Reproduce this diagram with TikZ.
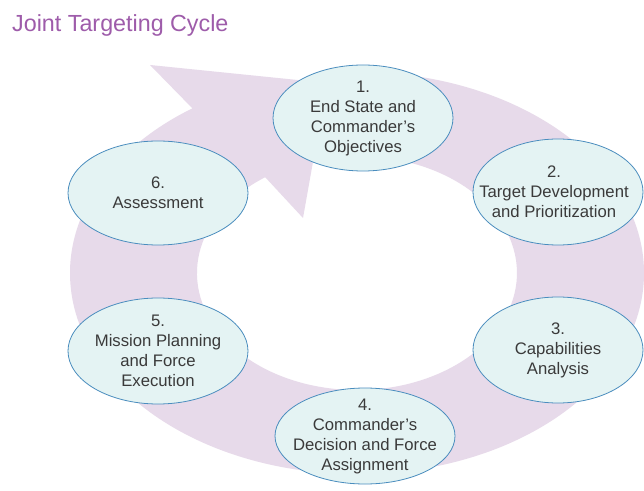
\documentclass[tikz,border=0pt]{standalone}
\usepackage{fontspec}
\setmainfont{Liberation Sans}
\usetikzlibrary{shapes.geometric}
\definecolor{ringcol}{RGB}{231,218,234}
\definecolor{bubfill}{RGB}{228,243,243}
\definecolor{bubdraw}{RGB}{74,141,190}
\definecolor{txtcol}{RGB}{58,58,58}
\definecolor{titlecol}{RGB}{158,92,170}
\tikzset{
  bubble/.style={ellipse, draw=bubdraw, fill=bubfill, line width=0.8pt, inner sep=0pt},
  bubtext/.style={align=center, inner sep=0pt, text=txtcol, font=\fontsize{16.7}{20}\selectfont},
}
\begin{document}
\begin{tikzpicture}[x=1pt,y=1pt]
\fill[white] (0,0) rectangle (644,490);
\useasboundingbox (0,0) rectangle (644,490);
% title
\node[anchor=base west, inner sep=0pt, text=titlecol, font=\fontsize{23.3}{27}\selectfont] (title) at (12,458) {Joint Targeting Cycle};
% ring arrow
\fill[ringcol] (357,418) arc[start angle=90, end angle=-235, x radius=287, y radius=201]
  -- (150,425) -- (327,407) -- (303,272) -- (265.2,312.8)
  arc[start angle=125, end angle=450, x radius=160, y radius=117] -- cycle;
% bubbles
\node[bubble, minimum width=180pt, minimum height=106pt] (b1) at (363,372) {};
\node[bubble, minimum width=170pt, minimum height=106pt] (b2) at (558,298) {};
\node[bubble, minimum width=170pt, minimum height=106pt] (b3) at (558,140) {};
\node[bubble, minimum width=180pt, minimum height=96pt] (b4) at (365,54) {};
\node[bubble, minimum width=180pt, minimum height=106pt] (b5) at (158,139) {};
\node[bubble, minimum width=180pt, minimum height=104pt] (b6) at (158,297) {};
% texts
\node[bubtext] (t1) at (b1) {1.\\End State and\\Commander’s\\Objectives};
\node[bubtext] (t2) at ([xshift=-4pt]b2.center) {2.\\Target Development\\and Prioritization};
\node[bubtext] (t3) at (b3) {3.\\Capabilities\\Analysis};
\node[bubtext] (t4) at (b4) {4.\\Commander’s\\Decision and Force\\Assignment};
\node[bubtext] (t5) at (b5) {5.\\Mission Planning\\and Force\\Execution};
\node[bubtext] (t6) at (b6) {6.\\Assessment};
\end{tikzpicture}
\end{document}
